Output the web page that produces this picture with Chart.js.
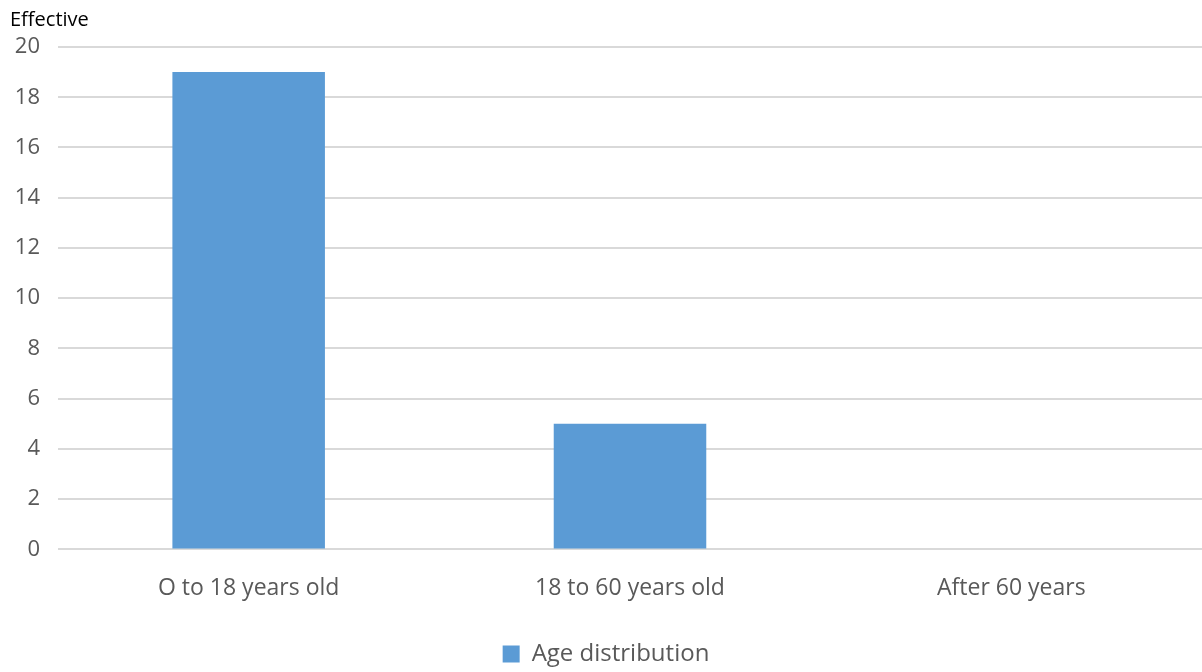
<!DOCTYPE html>
<html>
<head>
<meta charset="utf-8">
<script src="https://cdn.jsdelivr.net/npm/chart.js@4/dist/chart.umd.min.js"></script>
<style>
html,body{margin:0;padding:0;background:#fff;}
#wrap{width:1202px;height:672px;}
</style>
</head>
<body>
<div id="wrap"><canvas id="c" width="1202" height="672"></canvas></div>
<script>
const categories = ["O to 18 years old", "18 to 60 years old", "After 60 years"];
const seriesName = "Age distribution";
const values = [19, 5, 0];
const yTitle = "Effective";
const yMin = 0, yMax = 20, yStep = 2;

const FONT = "'Open Sans', Lato, sans-serif";
Chart.defaults.font.family = FONT;
Chart.defaults.color = "#595959";

new Chart(document.getElementById("c"), {
  type: "bar",
  data: {
    labels: categories,
    datasets: [{
      label: seriesName,
      data: values,
      backgroundColor: "#5B9BD5",
      borderWidth: 0,
      barPercentage: 0.8,
      categoryPercentage: 0.5
    }]
  },
  options: {
    responsive: false,
    animation: false,
    devicePixelRatio: 1,
    layout: { padding: { left: 10, right: 0, top: 0, bottom: -4 } },
    plugins: {
      title: {
        display: true,
        text: yTitle,
        align: "start",
        color: "#000000",
        font: { size: 20, family: FONT, weight: "normal" },
        padding: { top: 8, bottom: 15 }
      },
      legend: {
        position: "bottom",
        labels: {
          boxWidth: 17,
          boxHeight: 17,
          color: "#595959",
          font: { size: 24, family: FONT },
          padding: 15
        }
      },
      tooltip: { enabled: false }
    },
    scales: {
      x: {
        grid: { display: false, drawTicks: false },
        border: { display: false },
        ticks: { font: { size: 23, family: FONT }, color: "#595959", padding: 25 }
      },
      y: {
        min: yMin,
        max: yMax,
        afterFit: (s) => { s.width = 48; },
        ticks: { stepSize: yStep, font: { size: 22, family: FONT }, color: "#595959", padding: 18 },
        grid: { color: "#d9d9d9", lineWidth: 2, drawTicks: false },
        border: { display: false }
      }
    }
  }
});
</script>
</body>
</html>
